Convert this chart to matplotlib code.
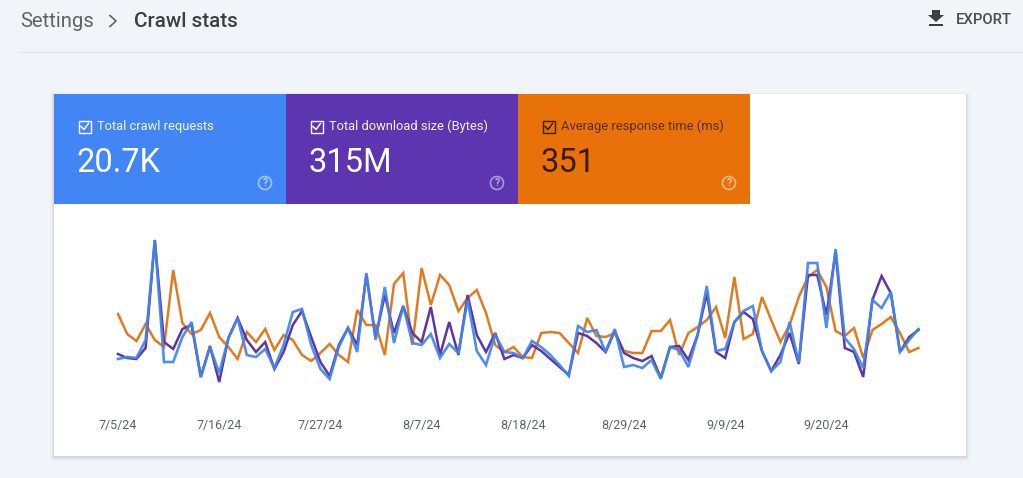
import matplotlib
matplotlib.use("Agg")
import matplotlib.pyplot as plt
from matplotlib.patches import Rectangle, Circle, Polygon
import numpy as np

plt.rcParams['font.family'] = ['Roboto', 'DejaVu Sans']

tick_labels = ['7/5/24', '7/16/24', '7/27/24', '8/7/24', '8/18/24', '8/29/24', '9/9/24', '9/20/24']

# chart units
response_time = [86,66,59,76,60,53,130,77,66,70,87,63,53,41,68,58,71,50,65,60,45,39,47,56,45,38,90,75,75,45,
                 116,127,55,132,95,125,115,89,102,110,87,55,48,53,43,42,67,68,67,57,47,82,64,63,67,49,47,47,
                 69,69,80,45,67,73,80,93,62,123,61,66,103,80,58,75,103,123,130,113,69,64,72,42,70,76,83,67,48,52]
download_size = [46,42,41,52,160,58,51,71,75,23,54,18,62,82,60,48,58,31,48,75,89,63,38,24,55,72,55,125,62,105,
                 67,94,67,58,93,45,78,45,105,65,48,67,41,45,42,55,49,41,33,25,67,64,57,48,69,47,42,39,
                 44,22,53,54,40,65,107,48,42,78,88,81,49,29,45,67,36,125,125,85,148,52,48,23,100,124,107,48,63,70]
crawl_requests = [41,43,42,60,160,38,38,63,78,23,53,27,62,82,45,43,51,32,55,88,91,55,31,21,53,72,48,127,60,113,
                  57,94,57,55,66,42,56,47,100,49,35,65,48,47,42,59,53,45,35,24,74,68,70,48,71,33,35,32,
                  40,21,53,50,33,65,114,49,51,78,89,94,49,29,38,78,37,137,137,72,151,62,51,32,100,92,108,48,60,71]

tile_titles = ['Total crawl requests', 'Total download size (Bytes)', 'Average response time (ms)']
tile_values = ['20.7K', '315M', '351']
tile_colors = ['#4285f4', '#5e35b1', '#e8710a']
tile_text = ['#ffffff', '#ffffff', '#3a1a02']

W, H = 1023, 478
fig = plt.figure(figsize=(W / 100, H / 100), dpi=100, facecolor='#f1f4f9')

# page furniture, drawn in pixel coordinates
bg = fig.add_axes([0, 0, 1, 1])
bg.set_xlim(0, W)
bg.set_ylim(H, 0)
bg.axis('off')

bg.plot([18, W], [51.5, 51.5], color='#e2e5e9', lw=1)
bg.text(20.5, 21, 'Settings', fontsize=14.6, color='#5f6368', va='center')
bg.plot([110, 116, 110], [15.5, 21, 26.5], color='#5f6368', lw=1.2)
bg.text(134, 21, 'Crawl stats', fontsize=14.9, color='#3c4043', va='center', fontweight='medium')
bg.add_patch(Polygon([[932, 10], [940, 10], [940, 15], [944, 15], [936, 22], [928, 15], [932, 15]], color='#3c4043', lw=0))
bg.add_patch(Rectangle((929, 24), 14, 2, color='#3c4043', lw=0))
bg.text(956, 19.5, 'EXPORT', fontsize=10.6, color='#4a4e52', va='center', fontweight='medium')

# card with soft shadow, mostly below the card
for grow, alpha in [(4, 0.012), (3, 0.02), (2, 0.03), (1, 0.05)]:
    bg.add_patch(Rectangle((54 - grow, 94 - grow + 2), 912 + 2 * grow, 362 + 2 * grow - 1, color='black', alpha=alpha, lw=0))
bg.add_patch(Rectangle((54, 94), 912, 362, color='white', lw=0))

for i, title in enumerate(tile_titles):
    x0 = 54 + 232 * i
    fg = tile_text[i]
    bg.add_patch(Rectangle((x0, 94), 232, 110, color=tile_colors[i], lw=0))
    bg.add_patch(Rectangle((x0 + 24.5, 120.5), 12, 12, fill=False, ec=fg, lw=1.0))
    bg.plot([x0 + 27, x0 + 30, x0 + 34.5], [126.5, 129.5, 123.5], color=fg, lw=1.1)
    bg.text(x0 + 43, 126, title, fontsize=9.3, color=fg, va='center', alpha=0.95 if i < 2 else 0.8)
    bg.text(x0 + 22.5, 162.5, tile_values[i], fontsize=23.5, color=fg, va='center')
    bg.add_patch(Circle((x0 + 211, 183), 6.5, fill=False, ec='white', alpha=0.5, lw=1.2))
    bg.text(x0 + 211, 183.2, '?', fontsize=7.5, color='white', alpha=0.6, ha='center', va='center', fontweight='bold')

# line chart
ax = fig.add_axes([54 / W, 1 - 415 / H, 912 / W, 211 / H])
ax.patch.set_alpha(0)
days = np.arange(len(crawl_requests))
ax.plot(days, response_time, color='#e07b20', lw=1.8, solid_joinstyle='miter')
ax.plot(days, download_size, color='#5e35a8', lw=1.8, solid_joinstyle='miter')
ax.plot(days, crawl_requests, color='#4285e8', lw=1.9, alpha=0.92, solid_joinstyle='miter')
ax.set_xlim(-64 / 9.2, 848 / 9.2)
ax.set_ylim(-15, 196)
ax.set_yticks([])
ax.set_xticks(days[::11][:len(tick_labels)])
ax.set_xticklabels(tick_labels, fontsize=9, color='#5f6368')
ax.tick_params(axis='x', length=0, pad=3)
for s in ax.spines.values():
    s.set_visible(False)

fig.savefig('out.png', dpi=100, facecolor=fig.get_facecolor())
